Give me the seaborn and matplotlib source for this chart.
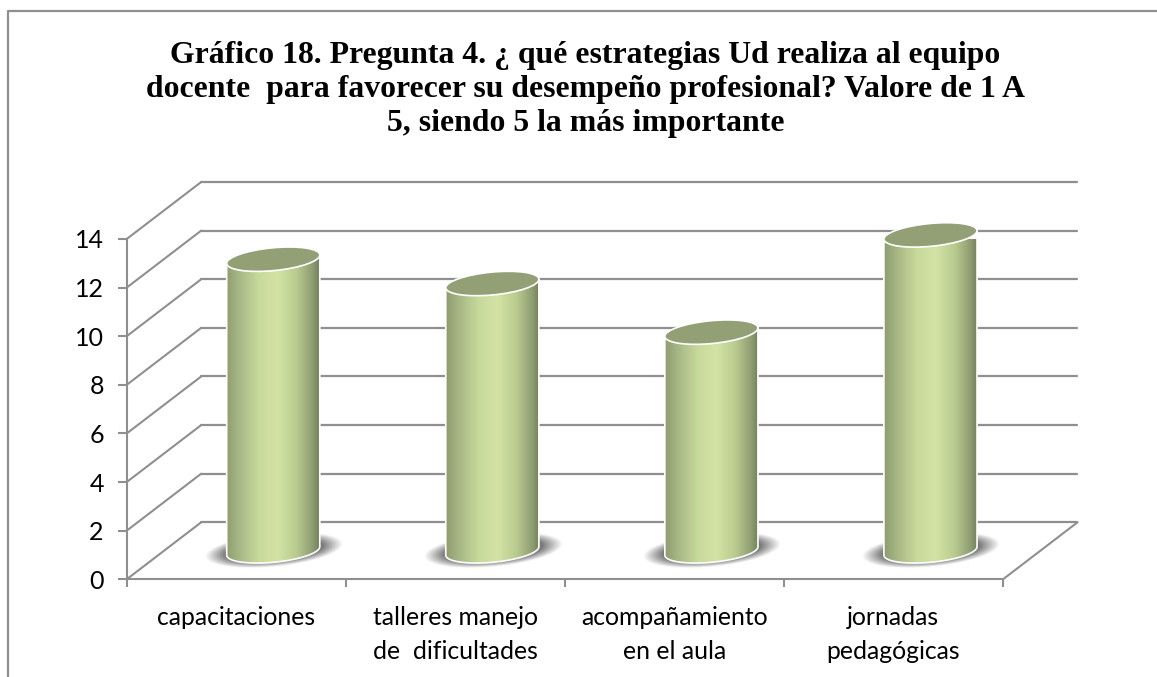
import numpy as np
import matplotlib
matplotlib.use("Agg")
import matplotlib.pyplot as plt
import seaborn as sns
from matplotlib.colors import LinearSegmentedColormap
from matplotlib.lines import Line2D
from matplotlib.patches import Ellipse, PathPatch
from matplotlib.path import Path
from matplotlib.transforms import Affine2D, IdentityTransform

categories = ["capacitaciones", "talleres manejo\nde  dificultades",
              "acompañamiento\nen el aula", "jornadas\npedagógicas"]
values = [12, 11, 9, 13]
y_ticks = [0, 2, 4, 6, 8, 10, 12, 14]
title = ("Gráfico 18. Pregunta 4. ¿ qué estrategias Ud realiza al equipo\n"
         "docente  para favorecer su desempeño profesional? Valore de 1 A\n"
         "5, siendo 5 la más importante")

W, H = 1157, 677
GRAY = "#8f8f8f"
sns.set_style("white")
plt.rcParams["font.family"] = ["Lato", "DejaVu Sans"]

fig = plt.figure(figsize=(W / 100, H / 100), dpi=100, facecolor="white")
ax = fig.add_axes([126.7 / W, (H - 579.3) / H, 876.3 / W, 340.3 / H])
ax.set_facecolor("none")

sns.barplot(x=categories, y=values, ax=ax, width=0.427, color="#b4c48c", zorder=3)
ax.set_xlim(-0.5, 3.5)
ax.set_ylim(0, 14)
ax.set_xlabel("")
ax.set_ylabel("")

for s in ("top", "right"):
    ax.spines[s].set_visible(False)
for s in ("left", "bottom"):
    ax.spines[s].set_color(GRAY)
    ax.spines[s].set_linewidth(1.5)

ax.set_yticks(y_ticks)
ax.set_yticklabels([str(t) for t in y_ticks], fontsize=18, color="black")
ax.tick_params(axis="y", length=6.5, width=1.5, color=GRAY, pad=10, left=True)
ax.set_xticks(range(len(categories)))
ax.set_xticklabels(categories, fontsize=17.8, color="black", linespacing=1.6)
ax.set_xticks(np.arange(-0.5, 4, 1), minor=True)
ax.tick_params(axis="x", which="major", length=0, pad=19)
ax.tick_params(axis="x", which="minor", length=6, width=1.5, color=GRAY, bottom=True)

# depth of the pseudo-3D box, in pixels
DEPTH_X, DEPTH_Y = 74.5, 57
back = ax.transData + Affine2D().translate(DEPTH_X, DEPTH_Y)
for lev in y_ticks:
    p0 = ax.transData.transform((-0.5, lev))
    p1 = p0 + np.array([DEPTH_X, DEPTH_Y])
    ax.add_line(Line2D([p0[0], p1[0]], [p0[1], p1[1]], transform=IdentityTransform(),
                       color=GRAY, lw=1.5, zorder=1, clip_on=False))
    ax.plot([-0.5, 3.5], [lev, lev], transform=back, color=GRAY, lw=1.6,
            zorder=1, clip_on=False)
p0 = ax.transData.transform((3.5, 0))
ax.add_line(Line2D([p0[0], p0[0] + DEPTH_X], [p0[1], p0[1] + DEPTH_Y],
                   transform=IdentityTransform(), color=GRAY, lw=1.5, zorder=1, clip_on=False))

# cylinders built on the seaborn bars
DX, DY = 37, 28.4
ANG = np.deg2rad(5.5)
B = 11.4
cyl = LinearSegmentedColormap.from_list("cyl", [
    (0.0, "#8f9c70"), (0.15, "#a9b986"), (0.35, "#c8d99c"), (0.55, "#d2e3a4"),
    (0.75, "#bacb90"), (0.92, "#8f9d72"), (1.0, "#727f5b")])
grad = np.linspace(0, 1, 256).reshape(1, -1)
shift = Affine2D().translate(DX, DY)

for bar in list(ax.patches):
    x0, w, v = bar.get_x(), bar.get_width(), bar.get_height()
    (xl, ybase), (xr, ytop) = ax.transData.transform([(x0, 0), (x0 + w, v)])
    A = (xr - xl) / 2
    cx = (xl + xr) / 2 + DX
    yb, yt = ybase + DY, ytop + DY
    t = np.linspace(0, np.pi, 60)
    ex = A * np.cos(t + np.pi)
    ey = B * np.sin(t + np.pi)
    rx = ex * np.cos(ANG) - ey * np.sin(ANG)
    ry = ex * np.sin(ANG) + ey * np.cos(ANG)
    tx = A * np.cos(ANG)
    ty = A * np.sin(ANG)
    verts = np.vstack([np.c_[cx + rx, yb + ry], [[cx + tx, yt + ty]], [[cx - tx, yt - ty]],
                       [[cx - tx, yb - ty]]])
    # shadow
    sx0, sx1, sy0, sy1 = cx - 80, cx + 80, yb - 30, yb + 30
    gx, gy = np.meshgrid(np.linspace(sx0, sx1, 320), np.linspace(sy0, sy1, 120))
    ux = (gx - cx - 1) * np.cos(ANG) + (gy - yb - 1) * np.sin(ANG)
    uy = -(gx - cx - 1) * np.sin(ANG) + (gy - yb - 1) * np.cos(ANG)
    dist = np.sqrt((ux / 68) ** 2 + (uy / 16.5) ** 2)
    rgba = np.zeros(gx.shape + (4,))
    rgba[..., :3] = 0.42
    rgba[..., 3] = np.clip((1.02 - dist) / 0.3, 0, 1) * 0.9
    ax.imshow(rgba, extent=(sx0, sx1, sy0, sy1), origin="lower", aspect="auto",
              transform=IdentityTransform(), zorder=2, clip_on=False)
    # body
    outline = PathPatch(Path(np.vstack([verts, verts[0]]), closed=True),
                        transform=IdentityTransform(), facecolor="none",
                        edgecolor="white", lw=1.2, zorder=4.2, clip_on=False)
    clipper = PathPatch(Path(np.vstack([verts, verts[0]]), closed=True),
                        transform=IdentityTransform(), facecolor="none", edgecolor="none")
    ax.add_patch(clipper)
    bar.set_transform(ax.transData + shift)
    bar.set_clip_path(clipper)
    bar.set_linewidth(0)
    im = ax.imshow(grad, extent=(cx - A, cx + A, yb - 20, yt + 20), aspect="auto",
                   cmap=cyl, transform=IdentityTransform(), zorder=4, clip_on=True)
    im.set_clip_path(clipper)
    ax.add_patch(outline)
    ax.add_patch(Ellipse((cx, yt), 2 * A, 2 * B, angle=np.rad2deg(ANG),
                         transform=IdentityTransform(), facecolor="#939f75",
                         edgecolor="white", lw=1.2, zorder=5, clip_on=False))

ax.set_xlim(-0.5, 3.5)
ax.set_ylim(0, 14)

# chart frame
fig.add_artist(Line2D([8 / W, 8 / W, 1], [0, (H - 11) / H, (H - 11) / H],
                      color=GRAY, lw=1.6, transform=fig.transFigure))

fig.text(585.5 / W, (H - 40.5) / H, title, ha="center", va="top", fontsize=22.9,
         fontweight="bold", family=["Liberation Serif"], linespacing=1.23, color="black")

fig.savefig("out.png", dpi=100, facecolor="white")
